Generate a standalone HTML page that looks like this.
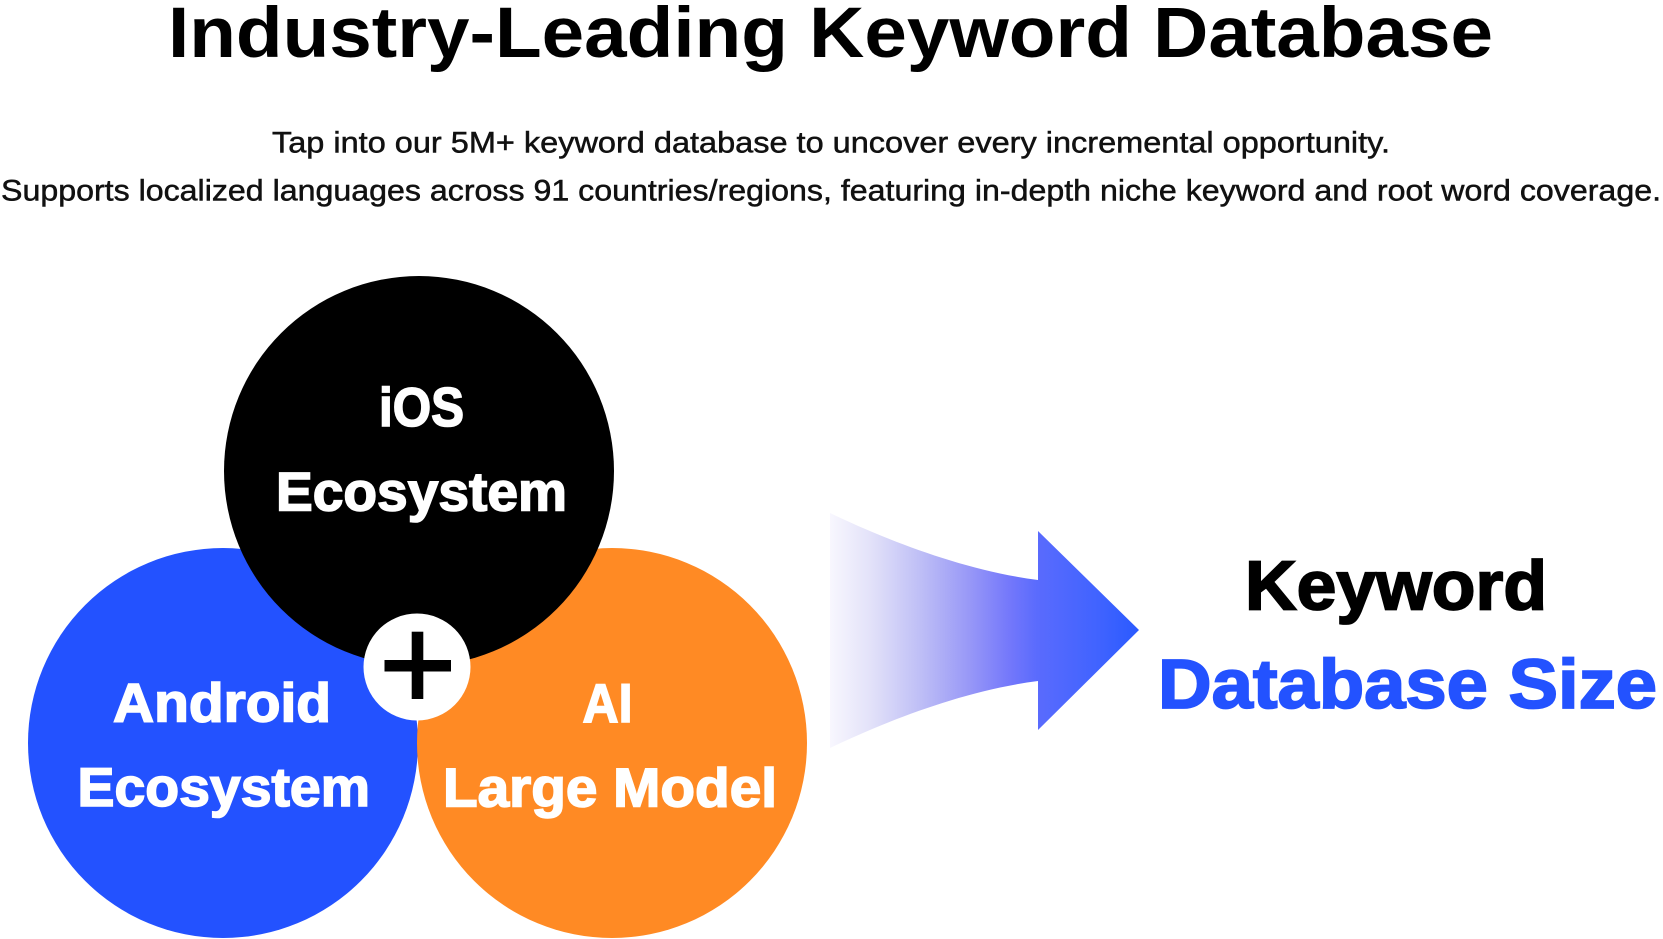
<!DOCTYPE html>
<html>
<head>
<meta charset="utf-8">
<style>
  html, body { margin: 0; padding: 0; background: #ffffff; }
  body { width: 1663px; height: 939px; overflow: hidden; }
  svg { display: block; }
  text { font-family: "Liberation Sans", Arial, sans-serif; }
</style>
</head>
<body>
<svg width="1663" height="939" viewBox="0 0 1663 939" xmlns="http://www.w3.org/2000/svg">
  <defs>
    <linearGradient id="arrowGrad" gradientUnits="userSpaceOnUse" x1="830" y1="0" x2="1139" y2="0">
      <stop offset="0" stop-color="#F8F7FE"/>
      <stop offset="0.13" stop-color="#E3E2F9"/>
      <stop offset="0.29" stop-color="#BFBFF6"/>
      <stop offset="0.45" stop-color="#9898F7"/>
      <stop offset="0.58" stop-color="#7478FB"/>
      <stop offset="0.67" stop-color="#5A6BFD"/>
      <stop offset="0.87" stop-color="#4063FF"/>
      <stop offset="1" stop-color="#2A5AFF"/>
    </linearGradient>
  </defs>

  <rect x="0" y="0" width="1663" height="939" fill="#ffffff"/>

  <!-- Title -->
  <text x="168" y="57" font-size="71" font-weight="bold" fill="#000000"
        textLength="1325" lengthAdjust="spacingAndGlyphs">Industry-Leading Keyword Database</text>

  <!-- Subtitles -->
  <text x="272" y="152.5" font-size="30" fill="#111111" stroke="#111111" stroke-width="0.5"
        textLength="1118" lengthAdjust="spacingAndGlyphs">Tap into our 5M+ keyword database to uncover every incremental opportunity.</text>
  <text x="1" y="200.5" font-size="30" fill="#111111" stroke="#111111" stroke-width="0.5"
        textLength="1660" lengthAdjust="spacingAndGlyphs">Supports localized languages across 91 countries/regions, featuring in-depth niche keyword and root word coverage.</text>

  <!-- Circles -->
  <circle cx="223" cy="743" r="195" fill="#2352FF"/>
  <circle cx="612" cy="743" r="195" fill="#FF8A24"/>
  <circle cx="419" cy="471" r="195" fill="#000000"/>
  <circle cx="417" cy="667" r="53.5" fill="#ffffff"/>
  <!-- plus -->
  <rect x="384.5" y="660" width="66.5" height="11.5" fill="#000000"/>
  <rect x="411.7" y="631.7" width="11.6" height="67.3" fill="#000000"/>

  <!-- Circle labels -->
  <g fill="#ffffff" stroke="#ffffff" stroke-width="1.6" font-weight="bold" font-size="55">
    <text x="379" y="426" textLength="85" lengthAdjust="spacingAndGlyphs">iOS</text>
    <text x="276" y="510.5" textLength="291" lengthAdjust="spacingAndGlyphs">Ecosystem</text>
    <text x="113" y="721.5" textLength="218" lengthAdjust="spacingAndGlyphs">Android</text>
    <text x="77.5" y="806" textLength="292.5" lengthAdjust="spacingAndGlyphs">Ecosystem</text>
    <text x="582.5" y="722" textLength="50" lengthAdjust="spacingAndGlyphs">AI</text>
    <text x="443" y="806.5" textLength="334" lengthAdjust="spacingAndGlyphs">Large Model</text>
  </g>

  <!-- Arrow -->
  <path d="M830,513 C880,537 960,570 1038,580 L1038,531 L1139,630 L1038,730 L1038,681 C960,691 880,724 830,748 Z"
        fill="url(#arrowGrad)"/>

  <!-- Right labels -->
  <text x="1245" y="609.5" font-size="70" font-weight="bold" fill="#000000" stroke="#000000" stroke-width="1.8"
        textLength="302" lengthAdjust="spacingAndGlyphs">Keyword</text>
  <text x="1158" y="708" font-size="70" font-weight="bold" fill="#2352FF" stroke="#2352FF" stroke-width="1.8"
        textLength="499" lengthAdjust="spacingAndGlyphs">Database Size</text>
</svg>
</body>
</html>
